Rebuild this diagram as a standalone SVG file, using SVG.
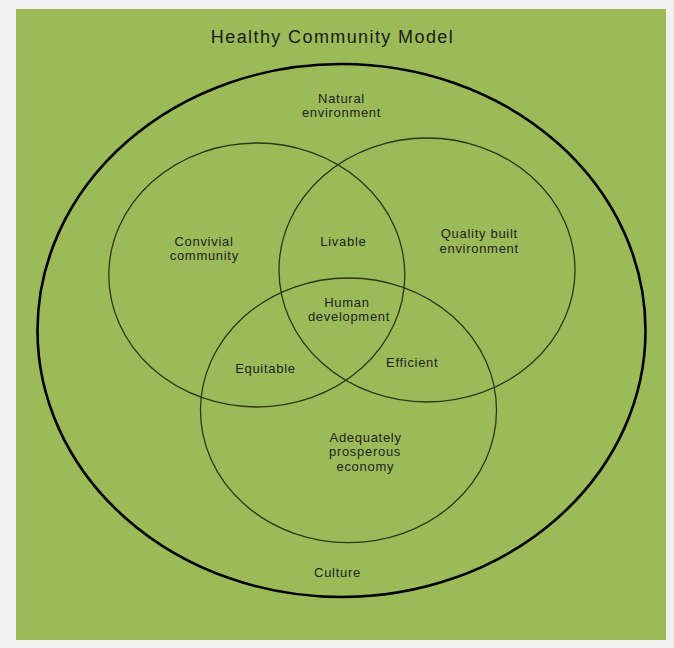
<svg xmlns="http://www.w3.org/2000/svg" width="674" height="648" viewBox="0 0 674 648">
  <style>
    .lbl { font-family: "Liberation Sans", Arial, sans-serif; font-size: 13px; letter-spacing: 0.7px; fill: #222; text-anchor: middle; }
    .title { font-family: "Liberation Sans", Arial, sans-serif; font-size: 18px; letter-spacing: 1.4px; fill: #1a1a1a; text-anchor: middle; }
    .set { fill: none; stroke: #2c361a; stroke-width: 1.3; }
    .outer { fill: none; stroke: #000; stroke-width: 2.6; }
  </style>
  <rect x="0" y="0" width="674" height="648" fill="#f0f0f0"/>
  <rect x="16" y="9" width="650" height="631" fill="#9bbb59"/>
  <g id="title">
    <text class="title" x="332.5" y="42.5">Healthy Community Model</text>
  </g>
  <g id="natural-environment">
    <ellipse class="outer" cx="341.5" cy="330.5" rx="304" ry="266.5"/>
    <text class="lbl" x="341.5" y="103">Natural</text>
    <text class="lbl" x="341.5" y="117.2">environment</text>
    <text class="lbl" x="337.5" y="577.3">Culture</text>
  </g>
  <g id="convivial-community">
    <ellipse class="set" cx="256.8" cy="275" rx="148" ry="132"/>
    <text class="lbl" x="204" y="245.7">Convivial</text>
    <text class="lbl" x="204.3" y="259.7">community</text>
  </g>
  <g id="quality-built-environment">
    <ellipse class="set" cx="427" cy="270" rx="148" ry="132"/>
    <text class="lbl" x="479.3" y="238.3">Quality built</text>
    <text class="lbl" x="479.2" y="253">environment</text>
  </g>
  <g id="adequately-prosperous-economy">
    <ellipse class="set" cx="348.5" cy="410.3" rx="148" ry="132.3"/>
    <text class="lbl" x="365.6" y="441.7">Adequately</text>
    <text class="lbl" x="365" y="456.2">prosperous</text>
    <text class="lbl" x="365.3" y="470.8">economy</text>
  </g>
  <g id="livable">
    <text class="lbl" x="343.4" y="245.7">Livable</text>
  </g>
  <g id="human-development">
    <text class="lbl" x="347" y="306.5">Human</text>
    <text class="lbl" x="349" y="321">development</text>
  </g>
  <g id="equitable">
    <text class="lbl" x="265.4" y="373.3">Equitable</text>
  </g>
  <g id="efficient">
    <text class="lbl" x="412.2" y="367.3">Efficient</text>
  </g>
  <g id="connectors"></g>
</svg>
